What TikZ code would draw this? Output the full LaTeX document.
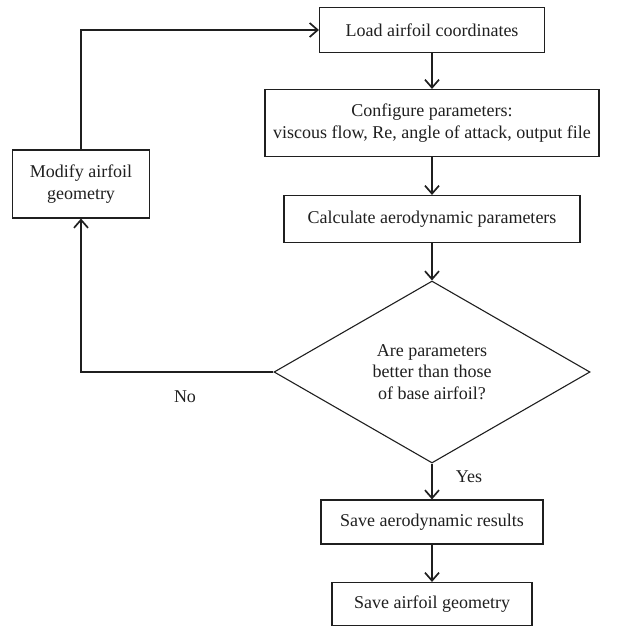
\documentclass[tikz,border=0pt]{standalone}
\usepackage{fontspec}
\setmainfont{Liberation Serif}
\usetikzlibrary{shapes.geometric,arrows.meta}
\begin{document}
\begin{tikzpicture}[x=1pt,y=-1pt,
  txt/.style={font=\fontsize{18}{21.5}\selectfont, text=black!88},
  box/.style={txt, draw=black!88, line width=1.1pt, align=center, inner sep=0pt},
  arr/.style={line width=1.1pt, draw=black!88, -{Straight Barb[length=8pt,width=14pt,line width=1.7pt]}}]
\useasboundingbox (0,0) rectangle (627,629);
\node[box, minimum width=225pt, minimum height=45pt] (load) at (432,30) {Load airfoil coordinates};
\node[box, minimum width=334pt, minimum height=67pt] (conf) at (432,123) {Configure parameters:\\viscous flow, Re, angle of attack, output file};
\node[box, minimum width=296pt, minimum height=47pt] (calc) at (432,219) {Calculate aerodynamic parameters};
\node[box, shape=diamond, aspect=1.75, minimum width=316pt, minimum height=182pt] (dec) at (432,372) {Are parameters\\better than those\\of base airfoil?};
\node[box, minimum width=222pt, minimum height=44pt] (res) at (432,522) {Save aerodynamic results};
\node[box, minimum width=200pt, minimum height=43pt] (geo) at (432,604) {Save airfoil geometry};
\node[box, minimum width=137pt, minimum height=68pt] (mod) at (81,184) {Modify airfoil\\geometry};
\node[txt] (no) at (185,397) {No};
\node[txt] (yes) at (469,477) {Yes};
\draw[arr] (load) -- (conf);
\draw[arr] (conf) -- (calc);
\draw[arr] (calc) -- (dec);
\draw[arr] (dec) -- (res);
\draw[arr] (res) -- (geo);
\draw[arr] (dec.west) -| (mod.south);
\draw[arr] (mod.north) |- (load.west);
\end{tikzpicture}
\end{document}
